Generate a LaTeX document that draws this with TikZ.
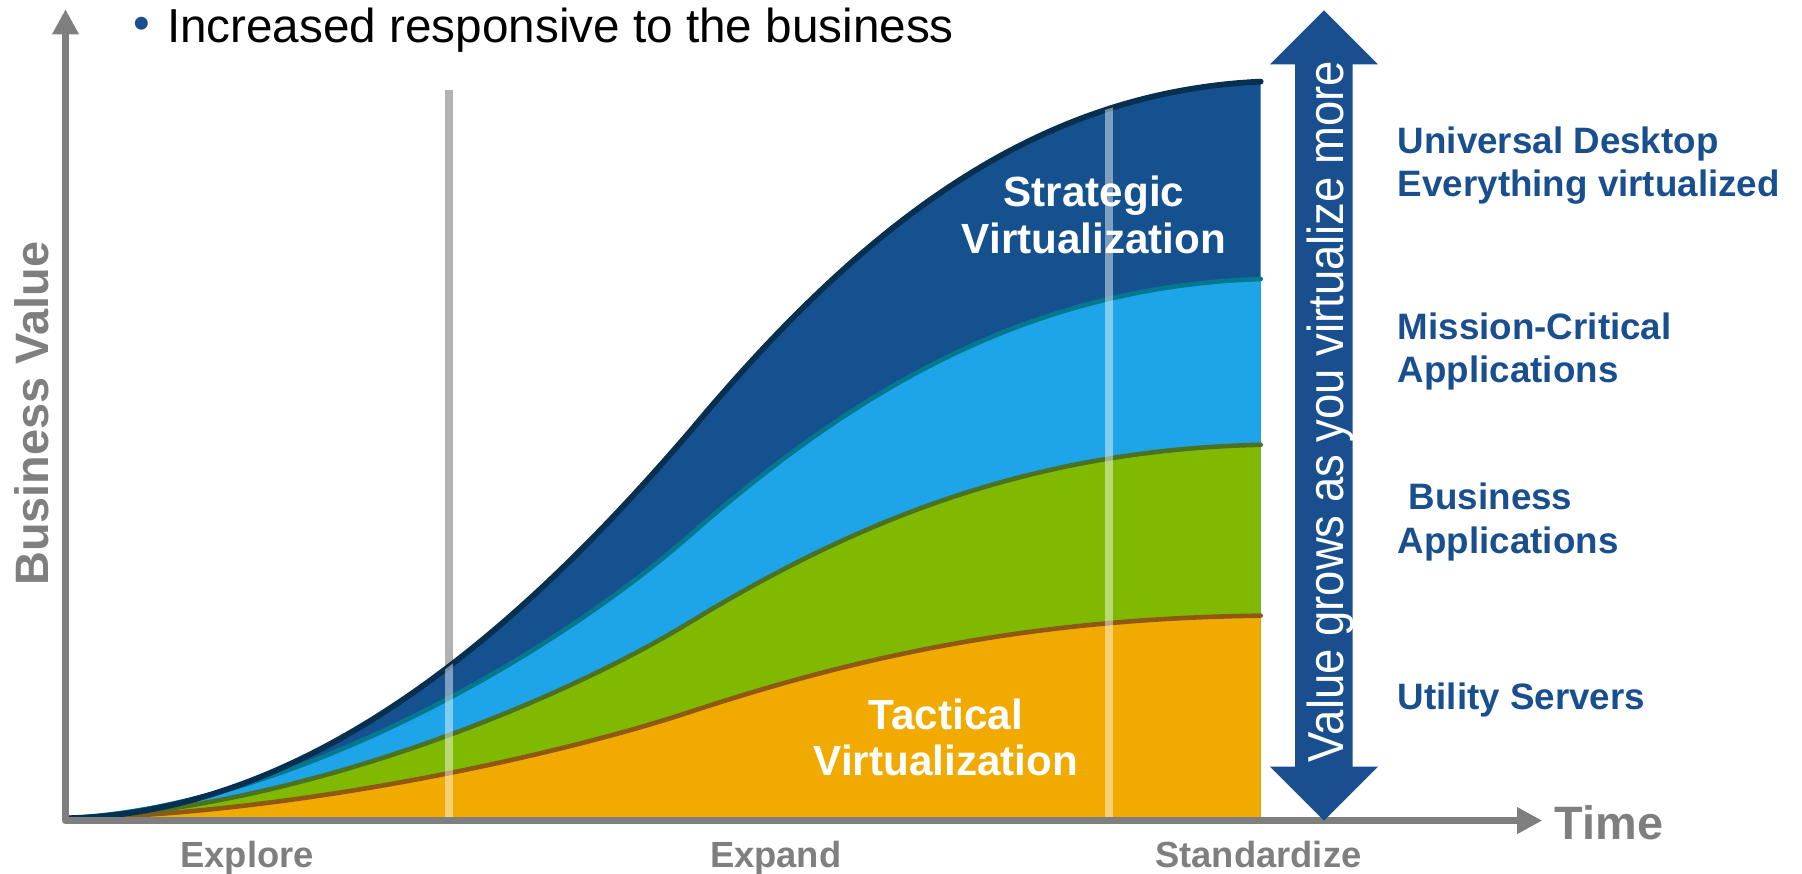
\documentclass[tikz,border=0pt]{standalone}
\usepackage{graphicx}
\usepackage{fontspec}
\setmainfont{Liberation Sans}
\usetikzlibrary{arrows.meta}

\definecolor{axisgray}{HTML}{7F7F7F}
\definecolor{phasegray}{HTML}{B2B2B2}
\definecolor{navyfill}{HTML}{16518F}
\definecolor{navyline}{HTML}{062F50}
\definecolor{skyfill}{HTML}{1EA5E9}
\definecolor{skyline}{HTML}{03788F}
\definecolor{greenfill}{HTML}{7FBA00}
\definecolor{greenline}{HTML}{4B7222}
\definecolor{orangefill}{HTML}{F0AA00}
\definecolor{orangeline}{HTML}{905815}
\definecolor{labelblue}{HTML}{1A4F8F}

% the four growth curves
\newcommand{\strategicline}{(57,712) .. controls (290,708) and (480,515) .. (600,376) .. controls (750,196) and (900,80) .. (1097,71)}
\newcommand{\missionline}{(57,712) .. controls (250,703.2) and (480,571.5) .. (600,466) .. controls (750,334.3) and (900,249.4) .. (1097,242.8)}
\newcommand{\businessline}{(57,712) .. controls (250,705.9) and (480,614.7) .. (600,541.6) .. controls (750,450.4) and (900,391.6) .. (1097,387)}
\newcommand{\utilityline}{(57,712) .. controls (250,708.7) and (480,659.2) .. (600,619.6) .. controls (750,570.1) and (900,538.2) .. (1097,535.7)}

\begin{document}
\begin{tikzpicture}[x=0.2mm, y=-0.2mm,
    axis/.style={line width=1.2mm, draw=axisgray, line join=round,
      {Triangle[length=4.4mm,width=4.4mm]}-{Triangle[length=4.4mm,width=4.4mm]}},
    phase/.style={line width=1.4mm, draw=phasegray},
    stripe/.style={line width=1.4mm, draw=white, opacity=0.45},
    edge/.style={line width=0.8mm, line cap=round},
    graytext/.style={text=axisgray, inner sep=0pt, font=\bfseries\fontsize{23.2}{27}\selectfont},
    phasetext/.style={text=axisgray, inner sep=0pt, anchor=base, font=\bfseries\fontsize{18}{21}\selectfont},
    areatext/.style={text=white, inner sep=0pt, align=center, font=\bfseries\fontsize{20.9}{22.8}\selectfont},
    leveltext/.style={text=labelblue, inner sep=0pt, anchor=west, align=left, font=\bfseries\fontsize{18.2}{21.6}\selectfont}]
  \useasboundingbox (0,0) rectangle (1568,760);

  % explore / expand divider
  \draw[phase] (391,78) -- (391,714);

  % stacked areas
  \fill[navyfill] \strategicline -- (1097,714) -- (57,714) -- cycle;
  \fill[skyfill] \missionline -- (1097,714) -- (57,714) -- cycle;
  \fill[greenfill] \businessline -- (1097,714) -- (57,714) -- cycle;
  \fill[orangefill] \utilityline -- (1097,714) -- (57,714) -- cycle;

  \draw[edge, orangeline] \utilityline;
  \draw[edge, greenline] \businessline;
  \draw[edge, skyline] \missionline;
  \draw[edge, navyline, line width=1mm] \strategicline;

  % see-through dividers
  \begin{scope}
    \clip \strategicline -- (1097,714) -- (57,714) -- cycle;
    \draw[stripe] (391,714) -- (391,60);
    \draw[stripe] (965,714) -- (965,60);
  \end{scope}

  % axes
  \coordinate (origin) at (57,714);
  \coordinate (ytip) at (57,8);
  \coordinate (xtip) at (1342,714);
  \draw[axis] (ytip) -- (origin) -- (xtip);

  % value arrow
  \fill[labelblue] (1152,9) -- (1199,56) -- (1177,56) -- (1177,667) -- (1199,667)
    -- (1152,714) -- (1105,667) -- (1127,667) -- (1127,56) -- (1105,56) -- cycle;
  \node[text=white, rotate=90, inner sep=0pt, font=\fontsize{25}{29}\selectfont] (grows) at (1158,358) {\scalebox{0.9}[1]{Value grows as you virtualize more}};

  \node[anchor=base, inner sep=0pt, text=labelblue, font=\fontsize{23.6}{28}\selectfont] (dot) at (123,34) {•};
  \node[anchor=base west, inner sep=0pt, font=\fontsize{23.6}{28}\selectfont] (increased) at (145,37) {Increased responsive to the business};

  \node[graytext, rotate=90] (valueaxis) at (28,360) {Business Value};
  \node[graytext] (time) at (1400,716) {Time};
  \node[phasetext] (explore) at (215,755) {Explore};
  \node[phasetext] (expand) at (675,755) {Expand};
  \node[phasetext] (standardize) at (1095,755) {Standardize};

  \node[areatext] (strategic) at (952,187) {Strategic\\Virtualization};
  \node[areatext] (tactical) at (823,642) {Tactical\\Virtualization};

  \node[leveltext] (desktop) at (1216,144) {Universal Desktop\\Everything virtualized};
  \node[leveltext] (critical) at (1216,306) {Mission-Critical\\Applications};
  \node[leveltext] (businessapps) at (1216,454) {\hspace*{0.3em}Business\\Applications};
  \node[leveltext] (utility) at (1216,609) {Utility Servers};
\end{tikzpicture}
\end{document}
